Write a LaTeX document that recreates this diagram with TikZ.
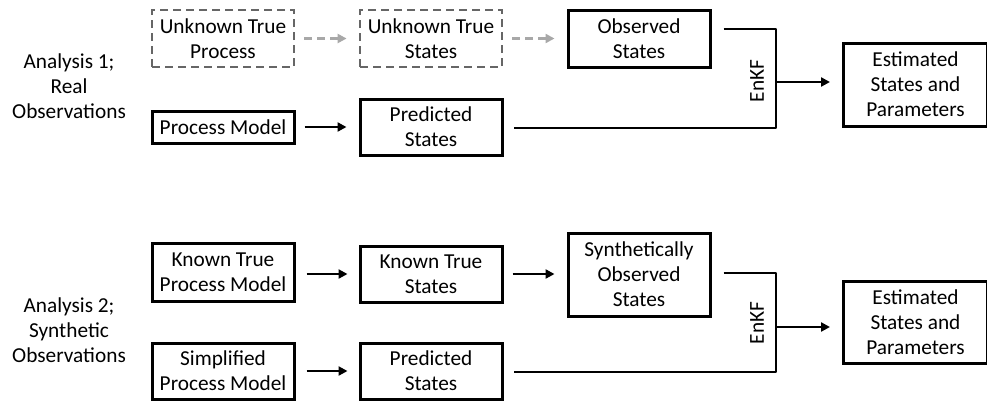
\documentclass[tikz,border=0pt]{standalone}
\usepackage{fontspec}
\setmainfont{Carlito}
\usetikzlibrary{arrows.meta}
\definecolor{dashgray}{HTML}{666666}
\definecolor{arrgray}{HTML}{A8A8A8}
\begin{document}
\begin{tikzpicture}[x=1pt,y=-1pt,
  every node/.style={font=\fontsize{21.3}{25}\selectfont, align=center, inner sep=0pt},
  box/.style={draw=black, line width=3pt, rectangle, minimum width=142pt},
  dbox/.style={draw=dashgray, line width=2.8pt, dash pattern=on 8pt off 5pt, rectangle, minimum width=142pt, minimum height=57pt},
  conn/.style={line width=2.7pt, draw=black},
  arr/.style={conn, -{Triangle[length=9pt,width=9pt]}},
  darr/.style={draw=arrgray, line width=2.7pt, dash pattern=on 8pt off 5pt, -{Triangle[length=9pt,width=9pt]}},
  lab/.style={font=\fontsize{21.3}{25}\selectfont}
]
\useasboundingbox (0,0) rectangle (987,400);

% Analysis 1
\node[lab] (a1) at (69,86) {Analysis 1;\\Real\\Observations};
\node[dbox] (utp) at (223,38.5) {Unknown True\\Process};
\node[dbox] (uts) at (431,38.5) {Unknown True\\States};
\node[box, minimum height=57pt] (obs) at (639,38.5) {Observed\\States};
\node[box, minimum height=32pt] (pm) at (223,127) {Process Model};
\node[box, minimum height=56pt] (ps1) at (431,127) {Predicted\\States};
\node[box, minimum width=144pt, minimum height=83pt] (est1) at (915.5,84.5) {Estimated\\States and\\Parameters};

\draw[darr, shorten <=9pt, shorten >=12pt] (utp.east) -- (uts.west);
\draw[darr, shorten <=9pt, shorten >=12pt] (uts.east) -- (obs.west);
\draw[arr, shorten <=9pt, shorten >=12pt] (pm.east) -- (pm.east -| ps1.west);

\coordinate (j1t) at (776,29);
\coordinate (j1b) at (776,128);
\coordinate (j1m) at (776,82);
\draw[conn, line join=round] ([xshift=12pt]obs.east |- j1t) -- (j1t) -- (j1b) -- ([xshift=10pt]ps1.east |- j1b);
\draw[arr, shorten >=12pt] (j1m) -- (j1m -| est1.west);
\node[rotate=90] (enkf1) at (757,81) {EnKF};

% Analysis 2
\node[lab] (a2) at (69,330) {Analysis 2;\\Synthetic\\Observations};
\node[box, minimum height=58pt] (ktpm) at (223,272) {Known True\\Process Model};
\node[box, minimum height=56pt] (kts) at (431,274) {Known True\\States};
\node[box, minimum height=83pt] (sos) at (639,274.5) {Synthetically\\Observed\\States};
\node[box, minimum height=56pt] (spm) at (223,371) {Simplified\\Process Model};
\node[box, minimum height=56pt] (ps2) at (431,371) {Predicted\\States};
\node[box, minimum width=144pt, minimum height=82pt] (est2) at (915.5,322) {Estimated\\States and\\Parameters};

\draw[arr, shorten <=11pt, shorten >=11pt] (ktpm.east |- kts.west) -- (kts.west);
\draw[arr, shorten <=9pt, shorten >=12pt] (kts.east) -- (kts.east -| sos.west);
\draw[arr, shorten <=11pt, shorten >=11pt] (spm.east) -- (ps2.west);

\coordinate (j2t) at (776,273);
\coordinate (j2b) at (776,372);
\coordinate (j2m) at (776,327);
\draw[conn, line join=round] ([xshift=12pt]sos.east |- j2t) -- (j2t) -- (j2b) -- ([xshift=10pt]ps2.east |- j2b);
\draw[arr, shorten >=12pt] (j2m) -- (j2m -| est2.west);
\node[rotate=90] (enkf2) at (757,323) {EnKF};
\end{tikzpicture}
\end{document}
